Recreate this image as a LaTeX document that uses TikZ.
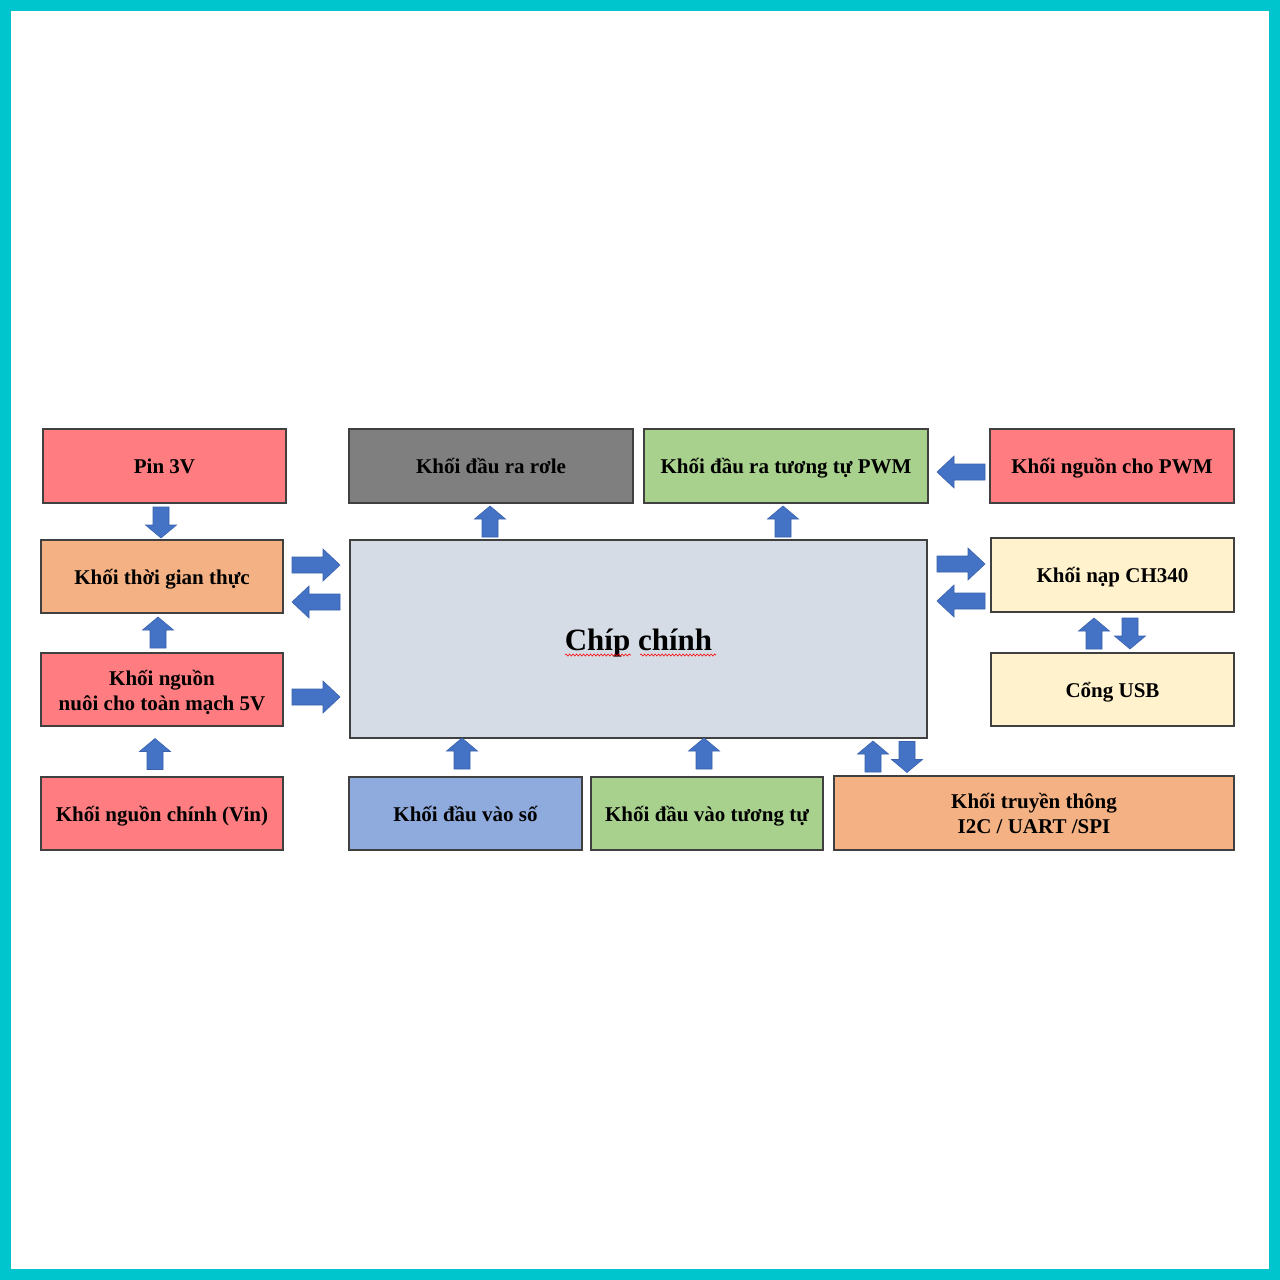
\documentclass[tikz,border=0pt]{standalone}
\usepackage{fontspec}
\setmainfont{Liberation Serif}
\usetikzlibrary{decorations.pathmorphing}
\definecolor{frame}{HTML}{00C5CD}
\definecolor{cpink}{HTML}{FF7C80}
\definecolor{corange}{HTML}{F4B183}
\definecolor{cgray}{HTML}{7F7F7F}
\definecolor{cgreen}{HTML}{A9D18E}
\definecolor{cchip}{HTML}{D6DCE5}
\definecolor{cyellow}{HTML}{FFF2CC}
\definecolor{cblue}{HTML}{8FAADC}
\definecolor{arrfill}{HTML}{4472C4}
\definecolor{arrline}{HTML}{3A62AE}
\definecolor{boxline}{HTML}{404040}
\tikzset{
  box/.style={draw=boxline, line width=1.2pt, align=center, inner sep=0pt,
    text height=17pt, text depth=2pt,
    font=\fontsize{21}{25}\selectfont\bfseries},
  twoline/.style={text height=43pt, text depth=2pt},
  barrow/.style={fill=arrfill, draw=arrline, line width=0.6pt, line join=miter},
  squig/.style={red, line width=0.6pt, decorate, decoration={snake, amplitude=1pt, segment length=3.5pt}},
  pics/rarrow/.style={code={\draw[barrow] (-24,-8) -- (7,-8) -- (7,-16) -- (24,0) -- (7,16) -- (7,8) -- (-24,8) -- cycle;}},
  pics/larrow/.style={code={\draw[barrow] (24,-8) -- (-7,-8) -- (-7,-16) -- (-24,0) -- (-7,16) -- (-7,8) -- (24,8) -- cycle;}},
  pics/uarrow/.style={code={\draw[barrow] (-8,15.5) -- (-8,-2.5) -- (-15.5,-2.5) -- (0,-15.5) -- (15.5,-2.5) -- (8,-2.5) -- (8,15.5) -- cycle;}},
  pics/darrow/.style={code={\draw[barrow] (-8,-15.5) -- (-8,2.5) -- (-15.5,2.5) -- (0,15.5) -- (15.5,2.5) -- (8,2.5) -- (8,-15.5) -- cycle;}},
}
\begin{document}
\begin{tikzpicture}[x=1pt,y=-1pt]
\useasboundingbox (0,0) rectangle (1280,1280);
\fill[frame] (0,0) rectangle (1280,1280);
\fill[white] (11,11) rectangle (1269,1269);

% left column
\node[box, fill=cpink, minimum width=243, minimum height=74] (pin) at (164.5,466) {Pin 3V};
\node[box, fill=corange, minimum width=242, minimum height=73] (rtc) at (162,576.5) {Khối thời gian thực};
\node[box, twoline, fill=cpink, minimum width=242, minimum height=73] (p5v) at (162,689.5) {Khối nguồn\\nuôi cho toàn mạch 5V};
\node[box, fill=cpink, minimum width=242, minimum height=73] (vin) at (162,813.5) {Khối nguồn chính (Vin)};

% top row
\node[box, fill=cgray, minimum width=284, minimum height=74] (relay) at (491,466) {Khối đầu ra rơle};
\node[box, fill=cgreen, minimum width=284, minimum height=74] (pwm) at (786,466) {Khối đầu ra tương tự PWM};
\node[box, fill=cpink, minimum width=244, minimum height=74] (ppwm) at (1112,466) {Khối nguồn cho PWM};

% chip
\node[box, fill=cchip, minimum width=577, minimum height=198, text height=25pt, text depth=3pt, font=\fontsize{31}{36}\selectfont\bfseries] (chip) at (638.5,639) {Chíp chính};
\draw[squig] (565,655) -- (631,655);
\draw[squig] (640,655) -- (716,655);

% right column
\node[box, fill=cyellow, minimum width=243, minimum height=74] (ch340) at (1112.5,575) {Khối nạp CH340};
\node[box, fill=cyellow, minimum width=243, minimum height=73] (usb) at (1112.5,689.5) {Cổng USB};

% bottom row
\node[box, fill=cblue, minimum width=233, minimum height=73] (din) at (465.5,813.5) {Khối đầu vào số};
\node[box, fill=cgreen, minimum width=232, minimum height=73] (ain) at (707,813.5) {Khối đầu vào tương tự};
\node[box, twoline, fill=corange, minimum width=400, minimum height=74] (comm) at (1034,813) {Khối truyền thông\\I2C / UART /SPI};

% block arrows
\pic (a1) at (161,522.5) {darrow};
\pic (a2) at (158,632.5) {uarrow};
\pic (a3) at (155,754) {uarrow};
\pic (a4) at (316,565) {rarrow};
\pic (a5) at (316,602) {larrow};
\pic (a6) at (316,697) {rarrow};
\pic (a7) at (490,521.5) {uarrow};
\pic (a8) at (783,521.5) {uarrow};
\pic (a9) at (961,472) {larrow};
\pic (a10) at (961,564) {rarrow};
\pic (a11) at (961,601) {larrow};
\pic (a12) at (1094,633.5) {uarrow};
\pic (a13) at (1130,633.5) {darrow};
\pic (a14) at (462,753.5) {uarrow};
\pic (a15) at (704,753.5) {uarrow};
\pic (a16) at (873,756.5) {uarrow};
\pic (a17) at (907,757) {darrow};
\end{tikzpicture}
\end{document}
